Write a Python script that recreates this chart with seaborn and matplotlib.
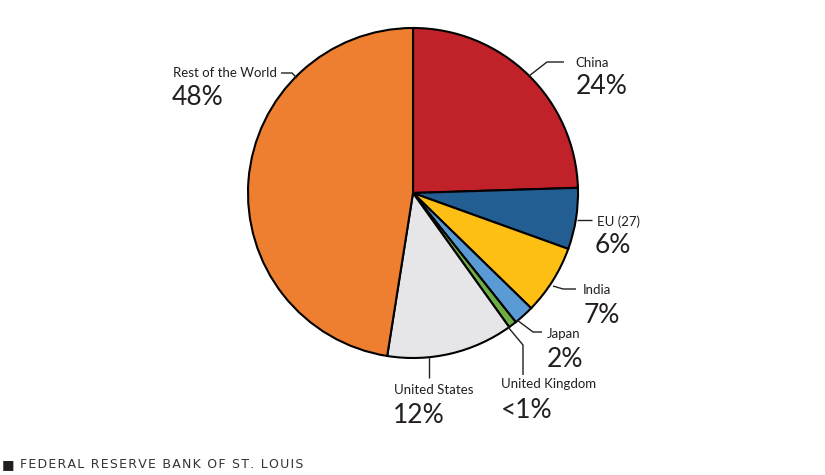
import matplotlib
matplotlib.use("Agg")
import matplotlib.pyplot as plt
import seaborn as sns
import numpy as np

# ---- data ----
categories = ["China", "EU (27)", "India", "Japan", "United Kingdom", "United States", "Rest of the World"]
shares = [24.5, 6.0, 6.8, 2.0, 0.8, 12.4, 47.5]
pct_labels = ["24%", "6%", "7%", "2%", "<1%", "12%", "48%"]
colors = ["#C1222A", "#235E92", "#FDBF14", "#5B9BD5", "#6DAE45", "#E6E6E8", "#EE7F30"]
footer_text = "FEDERAL RESERVE BANK OF ST. LOUIS"

sns.set_theme(style="white")
plt.rcParams["font.family"] = ["Lato", "DejaVu Sans"]

W, H = 825, 475
fig = plt.figure(figsize=(W / 100, H / 100), dpi=100)
ax = fig.add_axes([0, 0, 1, 1])

def P(x, y):
    return (x, H - y)

cx, cy = P(413, 193)
R = 165
ax.pie(shares, colors=colors, startangle=90, counterclock=False,
       center=(cx, cy), radius=R,
       wedgeprops=dict(edgecolor="black", linewidth=1.5))
ax.set_xlim(0, W)
ax.set_ylim(0, H)
ax.set_aspect("equal")
ax.axis("off")

txt = "#231F20"
layout = {
    "China": dict(line=[(529, 76), (547, 62), (564, 62)], name=(575, 67), pct=(576, 94)),
    "EU (27)": dict(line=[(577, 220), (592, 220)], name=(597, 226), pct=(595, 253)),
    "India": dict(line=[(553, 286), (563, 289), (576, 289)], name=(583, 294), pct=(584, 323)),
    "Japan": dict(line=[(517, 320), (533, 332), (542, 332)], name=(547, 338), pct=(547, 367)),
    "United Kingdom": dict(line=[(508, 327), (523, 345), (523, 375)], name=(501, 388), pct=(501, 418)),
    "United States": dict(line=[(429, 357), (429, 378)], name=(394, 394), pct=(393, 423)),
    "Rest of the World": dict(line=[(281, 73), (292, 73), (297, 78)], name=(173, 77), pct=(172, 105)),
}

for cat, pct in zip(categories, pct_labels):
    L = layout[cat]
    pts = [P(x, y) for x, y in L["line"]]
    ax.plot([p[0] for p in pts], [p[1] for p in pts], color="#231F20", lw=1.0,
            solid_capstyle="butt", zorder=5)
    ax.text(*P(*L["name"]), cat, ha="left", va="baseline", fontsize=9.5, color=txt)
    ax.text(*P(*L["pct"]), pct, ha="left", va="baseline", fontsize=19, color=txt)

# footer with letter spacing
ax.text(*P(2, 468), "\u25A0", ha="left", va="baseline", fontsize=9.5, color="#231F20",
        family=["DejaVu Sans"])
spaced = "\u200a".join(footer_text)
ax.text(*P(20, 468), spaced, ha="left", va="baseline", fontsize=9, color="#333333",
        family=["DejaVu Sans"])

fig.savefig("out.png", dpi=100)
